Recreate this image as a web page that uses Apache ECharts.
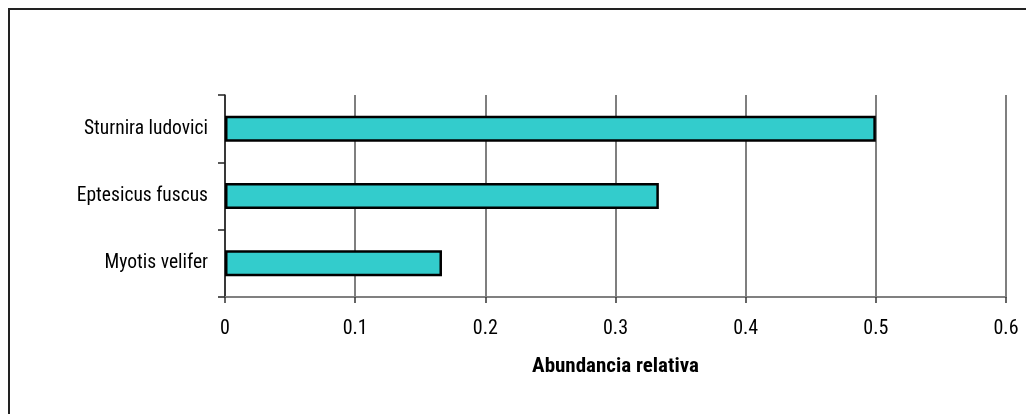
<!DOCTYPE html>
<html>
<head>
<meta charset="utf-8">
<script src="https://cdn.jsdelivr.net/npm/echarts@6/dist/echarts.min.js"></script>
<style>
  html, body { margin: 0; padding: 0; background: #ffffff; }
  #chart { width: 1026px; height: 414px; }
</style>
</head>
<body>
<div id="chart"></div>
<script>
// Species (top to bottom) and their relative abundance
const species = ['Sturnira ludovici', 'Eptesicus fuscus', 'Myotis velifer'];
const abundance = [0.5, 0.3333, 0.1667];
const xTicks = [0, 0.1, 0.2, 0.3, 0.4, 0.5, 0.6];

const FONT = "'Roboto Condensed', 'Liberation Sans Narrow', 'Arial Narrow', 'Liberation Sans', sans-serif";

const chart = echarts.init(document.getElementById('chart'), null, { renderer: 'canvas' });

chart.setOption({
  animation: false,
  backgroundColor: '#ffffff',
  graphic: [{
    type: 'rect',
    shape: { x: 9, y: 9, width: 1200, height: 1000 },
    style: { fill: 'none', stroke: '#222222', lineWidth: 2 },
    silent: true,
    z: 0
  }],
  grid: { left: 225, right: 20, top: 95, bottom: 117, containLabel: false },
  xAxis: {
    type: 'value',
    min: xTicks[0],
    max: xTicks[xTicks.length - 1],
    interval: 0.1,
    name: 'Abundancia relativa',
    nameLocation: 'middle',
    nameGap: 59,
    nameTextStyle: { fontFamily: FONT, fontSize: 21, fontWeight: 'bold', color: '#000' },
    axisLine: { show: true, lineStyle: { color: '#808080', width: 2 } },
    axisTick: { show: true, inside: false, length: 6, lineStyle: { color: '#333', width: 1.5 } },
    axisLabel: {
      fontFamily: FONT, fontSize: 20, color: '#000', margin: 22,
      formatter: v => String(Math.round(v * 10) / 10)
    },
    splitLine: { show: true, lineStyle: { color: '#555555', width: 1.5 } }
  },
  yAxis: {
    type: 'category',
    data: species,
    inverse: true,
    axisLine: { show: true, lineStyle: { color: '#222', width: 1.5 } },
    axisTick: { show: true, inside: false, length: 7, lineStyle: { color: '#222', width: 1.5 } },
    axisLabel: { fontFamily: FONT, fontSize: 19.5, color: '#000', margin: 17 },
    splitLine: { show: false }
  },
  series: [{
    type: 'bar',
    data: abundance,
    barWidth: 26,
    itemStyle: { color: '#33CCCC', borderColor: '#000000', borderWidth: 2.5 },
    z: 3
  }]
});
</script>
</body>
</html>
